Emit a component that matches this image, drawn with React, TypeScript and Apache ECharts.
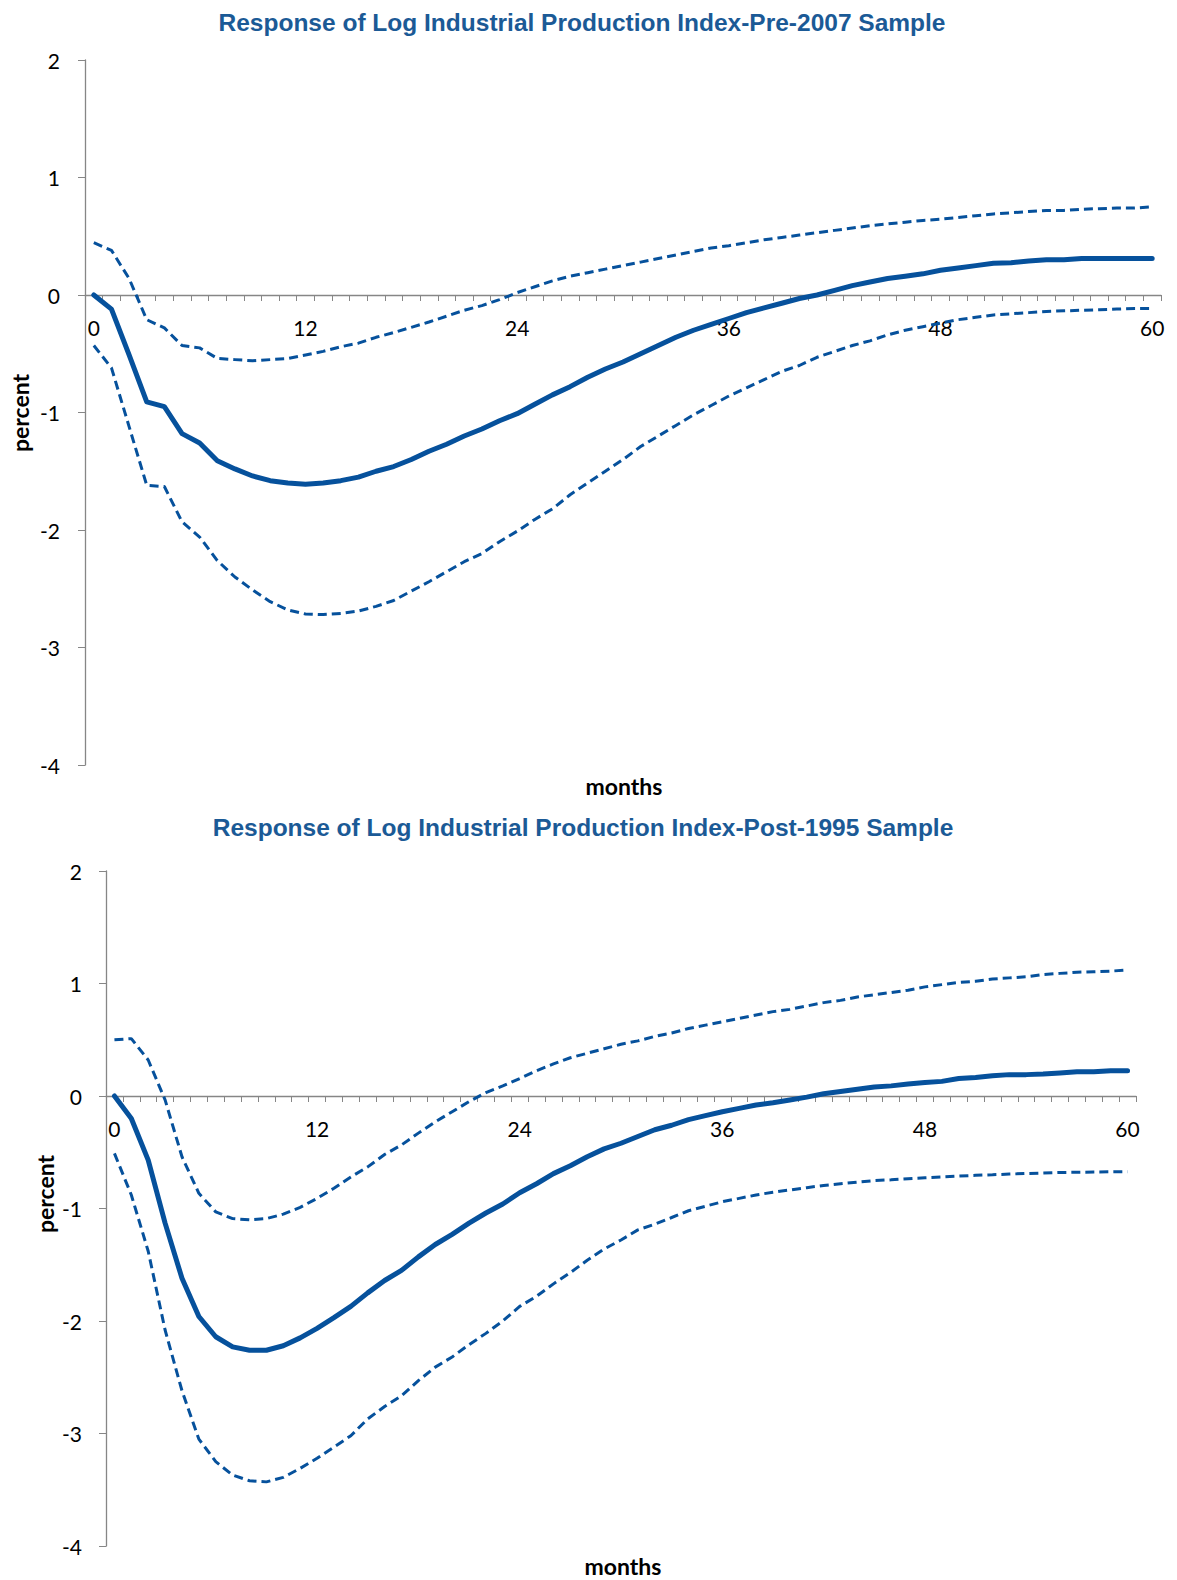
import React, { useEffect, useRef } from "react";
import * as echarts from "echarts";

const months: string[] = Array.from({ length: 61 }, (_, i) => String(i));

const titleTop = "Response of Log Industrial Production Index-Pre-2007 Sample";
const titleBottom = "Response of Log Industrial Production Index-Post-1995 Sample";
const yName = "percent";
const xName = "months";

const topMean = [
  0, -0.12, -0.51, -0.91, -0.95, -1.18, -1.26, -1.41, -1.48, -1.54,
  -1.58, -1.6, -1.61, -1.6, -1.58, -1.55, -1.5, -1.46, -1.4, -1.33,
  -1.27, -1.2, -1.14, -1.07, -1.01, -0.93, -0.85, -0.78, -0.7, -0.63,
  -0.57, -0.5, -0.43, -0.36, -0.3, -0.25, -0.2, -0.15, -0.11, -0.07,
  -0.03, 0.0, 0.04, 0.08, 0.11, 0.14, 0.16, 0.18, 0.21, 0.23,
  0.25, 0.27, 0.275, 0.29, 0.3, 0.3, 0.31, 0.31, 0.31, 0.31,
  0.31,
];
const topUpper = [
  0.445, 0.38, 0.14, -0.21, -0.28, -0.43, -0.45, -0.54, -0.55, -0.56,
  -0.55, -0.54, -0.51, -0.48, -0.44, -0.41, -0.36, -0.32, -0.275, -0.23,
  -0.18, -0.13, -0.09, -0.04, 0.02, 0.07, 0.12, 0.16, 0.19, 0.22,
  0.25, 0.28, 0.31, 0.34, 0.37, 0.4, 0.42, 0.445, 0.47, 0.49,
  0.51, 0.53, 0.55, 0.57, 0.59, 0.605, 0.62, 0.635, 0.645, 0.66,
  0.675, 0.69, 0.7, 0.71, 0.72, 0.72, 0.73, 0.735, 0.74, 0.74,
  0.75,
];
const topLower = [
  -0.43, -0.62, -1.12, -1.62, -1.63, -1.93, -2.06, -2.26, -2.4, -2.51,
  -2.61, -2.68, -2.715, -2.72, -2.71, -2.69, -2.65, -2.6, -2.52, -2.44,
  -2.355, -2.27, -2.2, -2.1, -2.01, -1.91, -1.82, -1.7, -1.6, -1.5,
  -1.4, -1.29, -1.2, -1.11, -1.02, -0.94, -0.86, -0.79, -0.72, -0.65,
  -0.6, -0.53, -0.48, -0.43, -0.39, -0.34, -0.3, -0.27, -0.24, -0.21,
  -0.19, -0.17, -0.16, -0.15, -0.14, -0.135, -0.13, -0.125, -0.12, -0.115,
  -0.115,
];

const botMean = [
  0, -0.2, -0.57, -1.13, -1.62, -1.96, -2.14, -2.23, -2.26, -2.26,
  -2.22, -2.15, -2.065, -1.97, -1.87, -1.75, -1.64, -1.55, -1.43, -1.32,
  -1.23, -1.13, -1.04, -0.96, -0.86, -0.78, -0.69, -0.62, -0.54, -0.47,
  -0.42, -0.36, -0.3, -0.26, -0.21, -0.175, -0.14, -0.11, -0.08, -0.06,
  -0.035, -0.01, 0.02, 0.04, 0.06, 0.08, 0.09, 0.107, 0.12, 0.13,
  0.155, 0.165, 0.18, 0.19, 0.19, 0.195, 0.205, 0.215, 0.215, 0.225,
  0.225,
];
const botUpper = [
  0.5, 0.51, 0.32, -0.035, -0.54, -0.865, -1.03, -1.09, -1.1, -1.09,
  -1.05, -0.99, -0.91, -0.82, -0.72, -0.63, -0.52, -0.435, -0.33, -0.23,
  -0.14, -0.05, 0.03, 0.09, 0.155, 0.225, 0.285, 0.34, 0.38, 0.42,
  0.46, 0.49, 0.53, 0.56, 0.6, 0.63, 0.66, 0.69, 0.72, 0.75,
  0.77, 0.8, 0.83, 0.85, 0.88, 0.9, 0.92, 0.94, 0.97, 0.99,
  1.01, 1.02, 1.04, 1.05, 1.06, 1.08, 1.09, 1.1, 1.105, 1.11,
  1.12,
];
const botLower = [
  -0.51, -0.88, -1.38, -2.08, -2.62, -3.05, -3.25, -3.37, -3.42, -3.43,
  -3.39, -3.31, -3.22, -3.12, -3.02, -2.87, -2.76, -2.665, -2.53, -2.41,
  -2.32, -2.21, -2.11, -2.0, -1.87, -1.78, -1.67, -1.57, -1.46, -1.36,
  -1.28, -1.19, -1.14, -1.08, -1.02, -0.98, -0.94, -0.91, -0.88, -0.855,
  -0.835, -0.815, -0.795, -0.78, -0.765, -0.752, -0.745, -0.735, -0.727, -0.72,
  -0.712, -0.705, -0.7, -0.694, -0.689, -0.685, -0.68, -0.678, -0.676, -0.674,
  -0.673,
];

const LINE = "#06519C";
const AXIS = "#868686";
const TITLE = "#1B5A96";

// grid geometry
const GRIDS = [
  { left: 85, top: 60, width: 1076, height: 705 },
  { left: 106, top: 871, width: 1030, height: 675 },
];
const Y_MIN = -4;
const Y_MAX = 2;

export default function App() {
  const ref = useRef<HTMLDivElement>(null);
  useEffect(() => {
    document.body.style.margin = "0";
    if (!ref.current) return;
    const chart = echarts.init(ref.current, null, { renderer: "svg" });

    const xAxis = [0, 1].map((g) => {
      const gr = GRIDS[g];
      // distance from grid bottom up to the zero line
      const zeroOffset = (gr.height * (0 - Y_MIN)) / (Y_MAX - Y_MIN);
      return {
        type: "category",
        gridIndex: g,
        data: months,
        boundaryGap: true,
        position: "bottom",
        offset: -zeroOffset,
        axisLine: { show: true, onZero: false, lineStyle: { color: AXIS, width: 1.3 } },
        axisTick: { show: true, interval: 0, length: 6, lineStyle: { color: AXIS, width: 1 } },
        axisLabel: {
          interval: 11,
          margin: 22,
          fontFamily: "Lato",
          fontSize: 21,
          color: "#000",
        },
        splitLine: { show: false },
      };
    });
    const yAxis = [0, 1].map((g) => ({
      type: "value",
      gridIndex: g,
      min: Y_MIN,
      max: Y_MAX,
      interval: 1,
      axisLine: { show: true, lineStyle: { color: AXIS, width: 1.3 } },
      axisTick: { show: true, length: 7, lineStyle: { color: AXIS, width: 1 } },
      axisLabel: {
        margin: g === 0 ? 25 : 24,
        fontFamily: "Lato",
        fontSize: 21,
        color: "#000",
      },
      splitLine: { show: false },
    }));

    const mk = (data: number[], g: number, dashed: boolean) => ({
      type: "line",
      xAxisIndex: g,
      yAxisIndex: g,
      data,
      symbol: "none",
      smooth: false,
      z: dashed ? 2 : 3,
      lineStyle: dashed
        ? { color: LINE, width: 3, type: [9, 5], cap: "butt" }
        : { color: LINE, width: 5, type: "solid", cap: "round", join: "round" },
    });

    const txt = (text: string, x: number, y: number, font: string, fill: string, rot = 0) => ({
      type: "text",
      x,
      y,
      rotation: rot,
      style: { text, font, fill, align: "center", verticalAlign: "middle" },
    });

    chart.setOption({
      animation: false,
      grid: GRIDS,
      xAxis,
      yAxis,
      series: [
        mk(topUpper, 0, true),
        mk(topLower, 0, true),
        mk(topMean, 0, false),
        mk(botUpper, 1, true),
        mk(botLower, 1, true),
        mk(botMean, 1, false),
      ],
      graphic: [
        txt(titleTop, 582, 22, 'bold 24.5px "Liberation Sans", Arial, sans-serif', TITLE),
        txt(titleBottom, 583, 827, 'bold 24.5px "Liberation Sans", Arial, sans-serif', TITLE),
        txt(yName, 20, 413, 'bold 23px Lato, sans-serif', "#000", Math.PI / 2),
        txt(yName, 45, 1194, 'bold 23px Lato, sans-serif', "#000", Math.PI / 2),
        txt(xName, 624, 786, 'bold 23px Lato, sans-serif', "#000"),
        txt(xName, 623, 1566, 'bold 23px Lato, sans-serif', "#000"),
      ],
    });
    return () => chart.dispose();
  }, []);
  return <div ref={ref} style={{ width: 1177, height: 1580 }} />;
}
